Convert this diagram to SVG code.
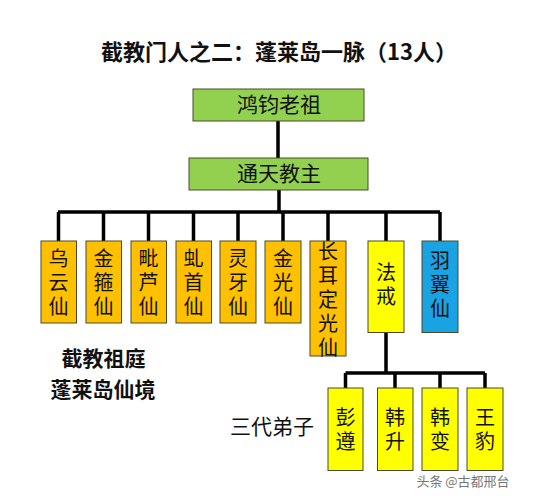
<svg xmlns="http://www.w3.org/2000/svg" width="535" height="500" viewBox="0 0 535 500">
<style>
.box{stroke:#4a4a2a;stroke-width:1}
.g{fill:#92d050}
.o{fill:#ffc000}
.y{fill:#ffff00}
.b{fill:#1aa3e3}
text{font-family:"Noto Sans CJK SC","Noto Sans",sans-serif;fill:#111}
.t{font-size:21px;text-anchor:middle}
.v{font-size:20px;writing-mode:vertical-rl;text-orientation:upright;letter-spacing:4px}
.h{font-size:22px;font-weight:bold;text-anchor:middle}
.l{font-size:21px;font-weight:bold;text-anchor:middle}
.ln{stroke:#000;stroke-width:3.5;fill:none}
</style>
<rect width="535" height="500" fill="#fff"/>
<text class="h" x="279" y="60">截教门人之二：蓬莱岛一脉（13人）</text>
<g id="connectors">
<path class="ln" d="M278 121V158M279 190V212M58 212H440M58.5 212V241M103.5 212V241M148.5 212V241M193.5 212V241M238 212V241M283 212V241M328 212V241M386 212V241M440 212V241"/>
<path class="ln" d="M386 332V373M345.5 373H485M345.5 373V388M395 373V388M440 373V388M485 373V388"/>
</g>
<g id="hongjun"><rect class="box g" x="193" y="89" width="171" height="32"/><text class="t" x="279" y="112">鸿钧老祖</text></g>
<g id="tongtian"><rect class="box g" x="189" y="158" width="179" height="32"/><text class="t" x="279" y="181">通天教主</text></g>
<g id="wuyun"><rect class="box o" x="41" y="241" width="35.5" height="82"/><text class="v" x="58.5" y="248">乌云仙</text></g>
<g id="jingu"><rect class="box o" x="86" y="241" width="35.5" height="82"/><text class="v" x="103.5" y="248">金箍仙</text></g>
<g id="pilu"><rect class="box o" x="131" y="241" width="35.5" height="82"/><text class="v" x="148.5" y="248">毗芦仙</text></g>
<g id="qiushou"><rect class="box o" x="176" y="241" width="35.5" height="82"/><text class="v" x="193.5" y="248">虬首仙</text></g>
<g id="lingya"><rect class="box o" x="220" y="241" width="36" height="82"/><text class="v" x="238" y="248">灵牙仙</text></g>
<g id="jinguang"><rect class="box o" x="265" y="241" width="36" height="82"/><text class="v" x="283" y="248">金光仙</text></g>
<g id="changer"><rect class="box o" x="310" y="241" width="36" height="115"/><text class="v" x="328" y="241">长耳定光仙</text></g>
<g id="fajie"><rect class="box y" x="368" y="241" width="36" height="91.5"/><text class="v" x="386" y="262">法戒</text></g>
<g id="yuyi"><rect class="box b" x="422" y="241" width="36" height="91.5"/><text class="v" x="440" y="250">羽翼仙</text></g>
<g id="label-zuting"><text class="l" x="103.5" y="365.5">截教祖庭</text><text class="l" x="103" y="396.5">蓬莱岛仙境</text></g>
<g id="label-sandai"><text x="272" y="434" style="font-size:21px;text-anchor:middle">三代弟子</text></g>
<g id="pengzun"><rect class="box y" x="328" y="388" width="35" height="82.5"/><text class="v" x="345.5" y="407">彭遵</text></g>
<g id="hansheng"><rect class="box y" x="377.5" y="388" width="35.5" height="82.5"/><text class="v" x="395" y="407">韩升</text></g>
<g id="hanbian"><rect class="box y" x="422" y="388" width="36" height="82.5"/><text class="v" x="440" y="407">韩变</text></g>
<g id="wangbao"><rect class="box y" x="467" y="388" width="36" height="82.5"/><text class="v" x="485" y="407">王豹</text></g>
<text x="463" y="486" style="font-size:13px;text-anchor:middle;fill:#777">头条 @古都邢台</text>
</svg>
